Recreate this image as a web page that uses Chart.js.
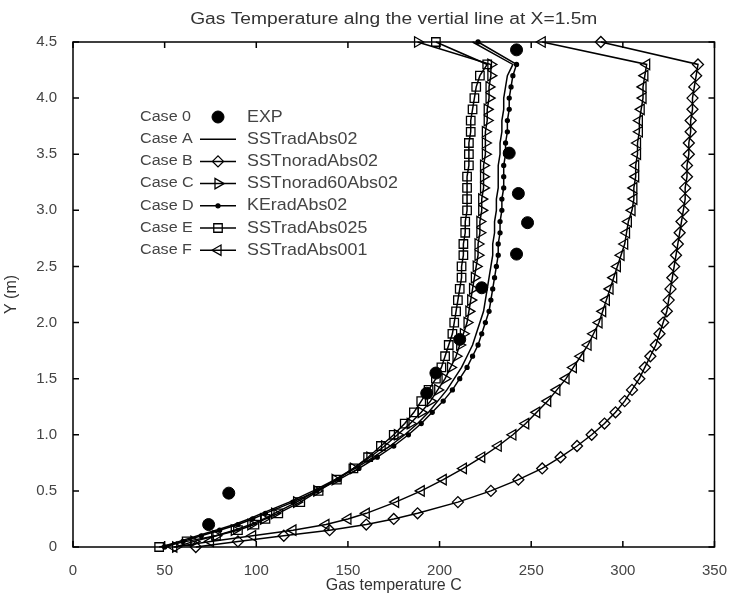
<!DOCTYPE html>
<html>
<head>
<meta charset="utf-8">
<script src="https://cdn.jsdelivr.net/npm/chart.js@4.4.0/dist/chart.umd.min.js"></script>
<style>
  html, body { margin: 0; padding: 0; background: #fff; }
</style>
</head>
<body>
<canvas id="gas" width="734" height="601"></canvas>
<script>
// heights (m) shared by the simulated profiles
const heights = [0, 0.05, 0.1, 0.15, 0.2, 0.25, 0.3,
  0.4, 0.5, 0.6, 0.7, 0.8, 0.9, 1.0, 1.1, 1.2, 1.3,
  1.4, 1.5, 1.6, 1.7, 1.8, 1.9, 2.0, 2.1, 2.2, 2.3,
  2.4, 2.5, 2.6, 2.7, 2.8, 2.9, 3.0, 3.1, 3.2, 3.3,
  3.4, 3.5, 3.6, 3.7, 3.8, 3.9, 4.0, 4.1, 4.2, 4.3, 4.5];

// gas temperature (C) per case
const caseA = [48, 58, 68, 78, 88, 96, 103,
  118, 131, 143, 154, 164, 173, 181, 188, 194, 199,
  204, 208, 212, 215, 218, 220, 222, 224, 225, 226,
  227, 228, 229, 229, 230, 230, 231, 231, 232, 232,
  232, 233, 233, 234, 234, 235, 235, 236, 237, 240, 218];
const caseB = [67, 90, 115, 140, 160, 175, 188,
  210, 228, 243, 256, 266, 275, 283, 290, 296, 301,
  305, 309, 312, 315, 318, 320, 322, 324, 325, 326,
  327, 328, 329, 330, 331, 332, 333, 334, 334, 335,
  335, 336, 336, 337, 337, 338, 338, 339, 340, 341, 288];
const caseC = [56, 66, 78, 88, 97, 104, 110,
  122, 133, 143, 153, 162, 170, 177, 184, 190, 195,
  199, 203, 206, 209, 211, 213, 215, 216, 217, 218,
  219, 220, 221, 221, 222, 222, 223, 223, 224, 224,
  224, 225, 225, 225, 226, 226, 227, 227, 228, 228, 188];
const caseD = [50, 60, 70, 80, 90, 98, 105,
  120, 133, 145, 156, 166, 175, 183, 190, 196, 202,
  207, 211, 215, 218, 221, 223, 225, 227, 228, 229,
  230, 231, 232, 232, 233, 233, 234, 234, 235, 235,
  235, 236, 236, 237, 237, 238, 238, 239, 240, 242, 221];
const caseE = [47, 62, 78, 90, 99, 105, 112,
  124, 134, 144, 153, 161, 168, 175, 181, 186, 190,
  194, 198, 201, 203, 205, 207, 208, 209, 210, 211,
  212, 212, 213, 213, 214, 214, 215, 215, 215, 215,
  216, 216, 216, 217, 217, 218, 219, 220, 222, 226, 198];
const caseF = [55, 75, 98, 120, 138, 150, 160,
  176, 190, 202, 213, 223, 232, 240, 247, 253, 259,
  264, 269, 273, 277, 281, 284, 287, 289, 291, 293,
  295, 297, 299, 301, 302, 303, 305, 306, 306, 307,
  307, 308, 308, 309, 309, 310, 311, 311, 312, 313, 256];

// measurements
const expHeight = [4.43, 3.51, 3.15, 2.89, 2.61, 2.31, 1.85, 1.55, 1.37, 0.48, 0.2];
const expTemp = [242, 238, 243, 248, 242, 223, 211, 198, 193, 85, 74];

const xTicks = [0, 50, 100, 150, 200, 250, 300, 350];
const yTicks = [0, 0.5, 1, 1.5, 2, 2.5, 3, 3.5, 4, 4.5];

const toPts = (xs, ys) => xs.map((v, i) => ({ x: v, y: ys[i] }));

function profile(tag, label, temps, style, extra) {
  return Object.assign({
    tag: tag,
    label: label,
    data: toPts(temps, heights),
    showLine: true,
    borderColor: '#000',
    borderWidth: 1.5,
    pointStyle: style,
    pointRadius: 5,
    pointRotation: 0,
    pointBorderColor: '#000',
    pointBackgroundColor: 'rgba(0,0,0,0)',
    pointBorderWidth: 1.3,
    clip: false
  }, extra || {});
}

const title = 'Gas Temperature alng the vertial line at X=1.5m';

function wideText(ctx, txt, x, y, sx) {
  ctx.save();
  ctx.translate(x, y);
  ctx.scale(sx, 1);
  ctx.fillText(txt, 0, 0);
  ctx.restore();
}

const frame = {
  id: 'frame',
  afterDatasetsDraw(chart) {
    const ctx = chart.ctx;
    const a = chart.chartArea;
    const sx = chart.scales.x, sy = chart.scales.y;
    ctx.save();
    ctx.strokeStyle = '#000';
    ctx.lineWidth = 1.5;
    ctx.strokeRect(a.left, a.top, a.right - a.left, a.bottom - a.top);
    ctx.beginPath();
    sx.ticks.forEach(t => {
      const p = sx.getPixelForValue(t.value);
      ctx.moveTo(p, a.bottom); ctx.lineTo(p, a.bottom - 6);
      ctx.moveTo(p, a.top); ctx.lineTo(p, a.top + 6);
    });
    sy.ticks.forEach(t => {
      const p = sy.getPixelForValue(t.value);
      ctx.moveTo(a.left, p); ctx.lineTo(a.left + 6, p);
      ctx.moveTo(a.right, p); ctx.lineTo(a.right - 6, p);
    });
    ctx.stroke();

    // title
    ctx.fillStyle = '#333';
    ctx.font = "16px 'Liberation Sans', Arial, sans-serif";
    ctx.textAlign = 'center';
    ctx.textBaseline = 'middle';
    wideText(ctx, title, (a.left + a.right) / 2, 20, 1.2);

    // legend
    const rowY = 117, rowGap = 22.2;
    chart.data.datasets.forEach((ds, i) => {
      const yy = rowY + i * rowGap;
      ctx.fillStyle = '#444';
      ctx.textAlign = 'left';
      ctx.font = "14px 'Liberation Sans', Arial, sans-serif";
      wideText(ctx, ds.tag, 140, yy, 1.15);
      ctx.strokeStyle = '#000';
      if (ds.showLine) {
        ctx.lineWidth = 1.5;
        ctx.beginPath();
        ctx.moveTo(200, yy); ctx.lineTo(236, yy);
        ctx.stroke();
      }
      if (ds.pointRadius > 0) {
        ctx.fillStyle = ds.pointBackgroundColor;
        ctx.lineWidth = ds.pointBorderWidth;
        Chart.helpers.drawPoint(ctx, {
          pointStyle: ds.pointStyle,
          radius: ds.pointRadius,
          rotation: ds.pointRotation,
          borderWidth: ds.pointBorderWidth
        }, 218, yy);
      }
      ctx.fillStyle = '#444';
      ctx.font = "17px 'Liberation Sans', Arial, sans-serif";
      wideText(ctx, ds.label, 247, yy, 1.05);
    });
    ctx.restore();
  }
};

new Chart(document.getElementById('gas'), {
  type: 'scatter',
  data: {
    datasets: [
      {
        tag: 'Case 0',
        label: 'EXP',
        data: toPts(expTemp, expHeight),
        showLine: false,
        pointStyle: 'circle',
        pointRadius: 6,
        pointRotation: 0,
        pointBackgroundColor: '#000',
        pointBorderColor: '#000',
        pointBorderWidth: 1,
        clip: false
      },
      profile('Case A', 'SSTradAbs02', caseA, 'circle', { pointRadius: 0 }),
      profile('Case B', 'SSTnoradAbs02', caseB, 'rectRot', { pointRadius: 5.5 }),
      profile('Case C', 'SSTnorad60Abs02', caseC, 'triangle', { pointRadius: 6, pointRotation: 90 }),
      profile('Case D', 'KEradAbs02', caseD, 'circle', { pointRadius: 2, pointBackgroundColor: '#000' }),
      profile('Case E', 'SSTradAbs025', caseE, 'rect', { pointRadius: 6 }),
      profile('Case F', 'SSTradAbs001', caseF, 'triangle', { pointRadius: 6, pointRotation: -90 })
    ]
  },
  options: {
    responsive: false,
    animation: false,
    devicePixelRatio: 1,
    layout: { padding: { left: 0, right: 18, top: 42, bottom: 0 } },
    plugins: { legend: { display: false }, title: { display: false }, tooltip: { enabled: false } },
    scales: {
      x: {
        type: 'linear',
        min: 0, max: 350,
        afterBuildTicks: s => { s.ticks = xTicks.map(v => ({ value: v })); },
        afterFit: s => { s.height = 54; },
        grid: { display: false },
        border: { display: false },
        ticks: { color: '#444', padding: 7, font: { size: 15, family: "'Liberation Sans', Arial, sans-serif" } },
        title: { display: true, text: 'Gas temperature C', color: '#333', padding: { top: 0, bottom: 6 },
          font: { size: 16, family: "'Liberation Sans', Arial, sans-serif" } }
      },
      y: {
        type: 'linear',
        min: 0, max: 4.5,
        afterBuildTicks: s => { s.ticks = yTicks.map(v => ({ value: v })); },
        afterFit: s => { s.width = 73; },
        grid: { display: false },
        border: { display: false },
        ticks: { color: '#444', padding: 8, font: { size: 15, family: "'Liberation Sans', Arial, sans-serif" } },
        title: { display: true, text: 'Y (m)', color: '#333', padding: { top: 2, bottom: 0 },
          font: { size: 16, family: "'Liberation Sans', Arial, sans-serif" } }
      }
    }
  },
  plugins: [frame]
});
</script>
</body>
</html>
